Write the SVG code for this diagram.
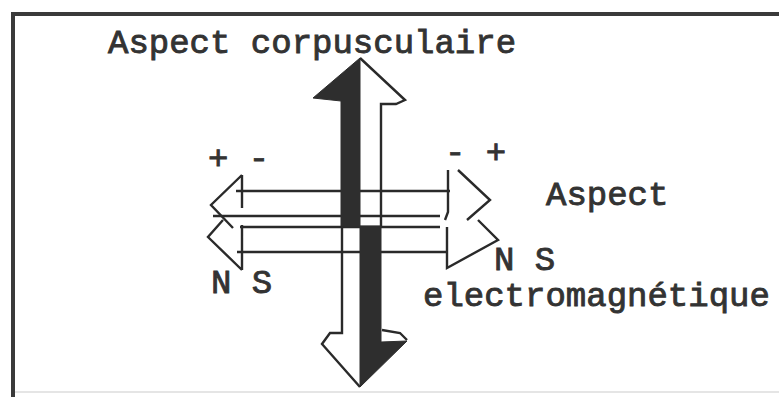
<svg xmlns="http://www.w3.org/2000/svg" width="779" height="397" viewBox="0 0 779 397">
<style>
.t{font-family:"Liberation Mono","DejaVu Sans Mono",monospace;font-size:34px;fill:#333;stroke:#333;stroke-width:0.9}
.ln{fill:none;stroke:#2a2a2a;stroke-width:2.4;stroke-linejoin:miter;stroke-linecap:butt}
.dk{fill:#2e2e2e;stroke:#2e2e2e;stroke-width:1}
</style>
<rect width="779" height="397" fill="#fff"/>
<g id="frame">
<line x1="11" y1="14" x2="779" y2="14" stroke="#3a3a3a" stroke-width="4"/>
<line x1="13" y1="12" x2="13" y2="397" stroke="#3a3a3a" stroke-width="4"/>
<line x1="15" y1="392" x2="779" y2="392" stroke="#ddd" stroke-width="1.5"/>
</g>
<g id="connectors">
<g id="horizontal-upper">
<path class="ln" d="M236,191 H450 M213,216 H440"/>
<path class="ln" d="M242,175 V208 M242,175 L211,205 L233,228"/>
<path class="ln" d="M448,170 V212 L445,220 M458,170 L490,200 L467,220"/>
</g>
<g id="horizontal-lower">
<path class="ln" d="M240,227 H440 M237,252 H447"/>
<path class="ln" d="M242,225 V270 M223,220 L208,237 L242,270"/>
<path class="ln" d="M447,227 V268 L498,240 L478,220"/>
</g>
<g id="vertical-up">
<path class="ln" d="M360,58 L405,100 L396,104 L381,104 V226"/>
<polygon class="dk" points="360,58 313,98 341,101 341,226 360,226"/>
</g>
<g id="vertical-down">
<path class="ln" d="M342,226 V333 L330,333 L322,344 L360,387"/>
<path class="ln" d="M382,330 L400,333 L407,340"/>
<polygon class="dk" points="360,226 381,226 381,342 407,341 360,387"/>
</g>
</g>
<g id="labels">
<text class="t" x="108" y="53">Aspect corpusculaire</text>
<text class="t" x="546" y="205">Aspect</text>
<text class="t" x="423" y="306">electromagnétique</text>
<text class="t" x="494" y="270">N S</text>
<text class="t" x="211" y="293">N S</text>
<text class="t" x="208" y="169">+ -</text>
<text class="t" x="445" y="163">- +</text>
</g>
</svg>
